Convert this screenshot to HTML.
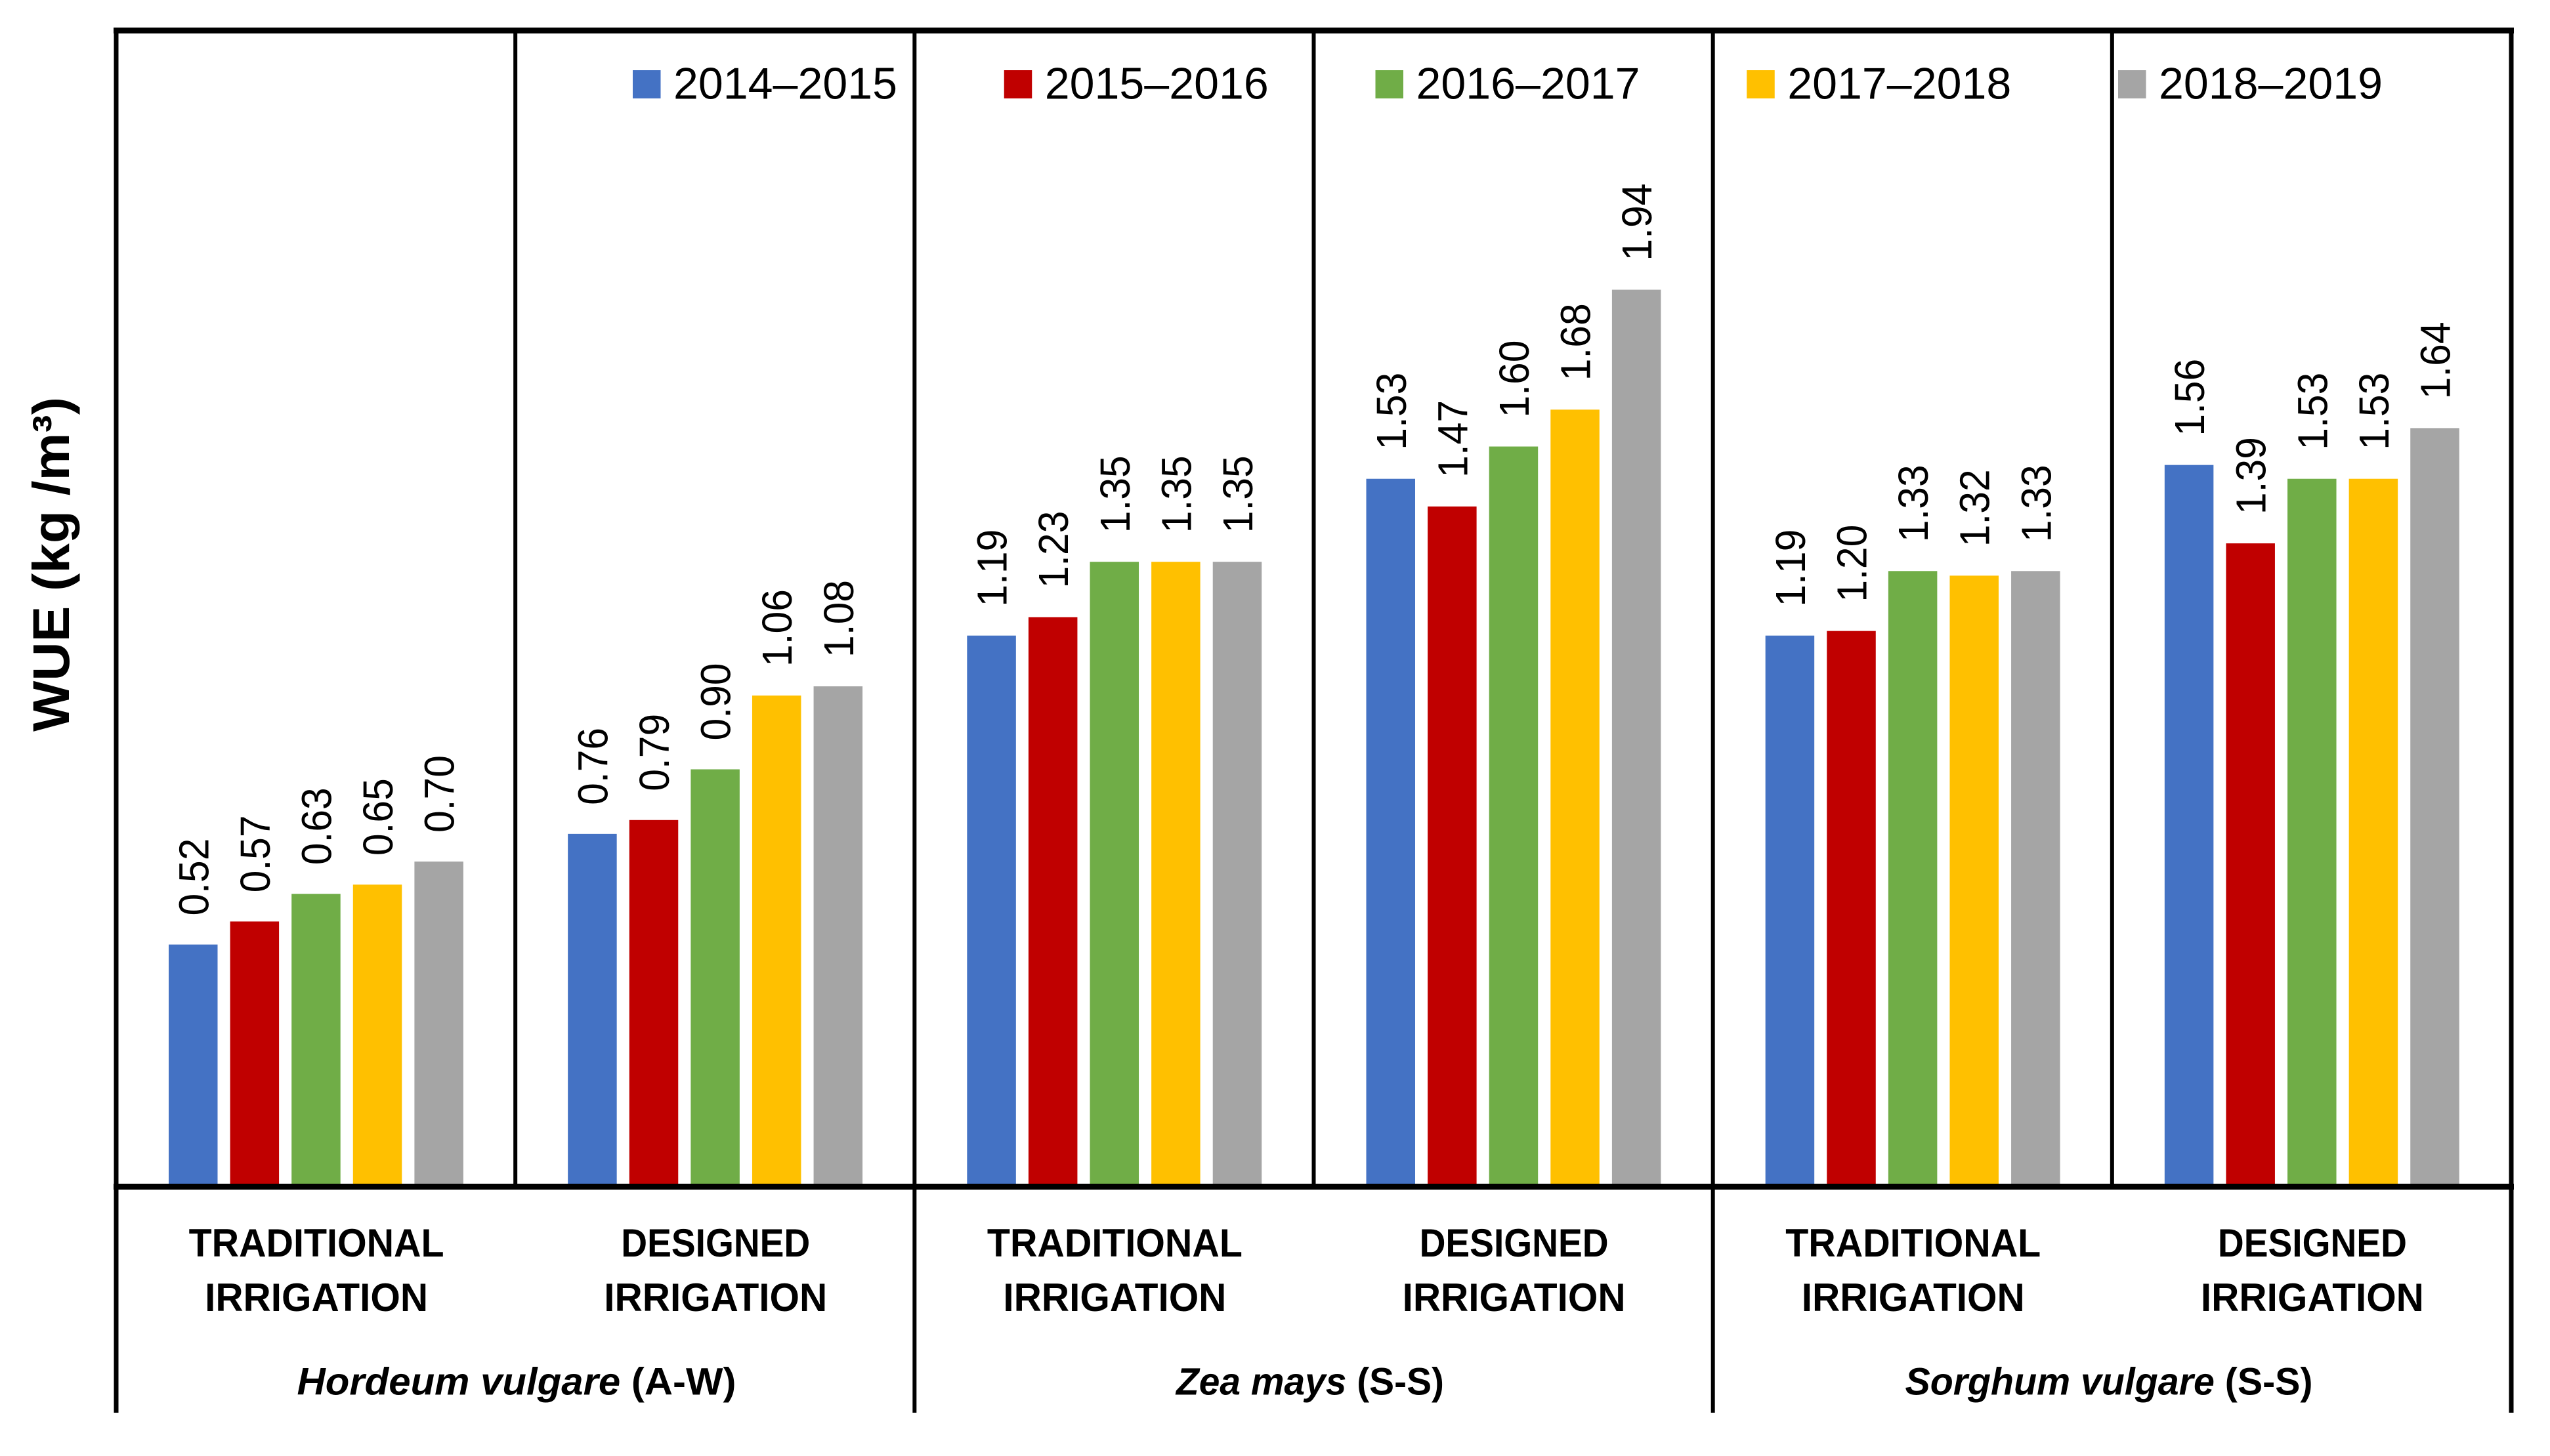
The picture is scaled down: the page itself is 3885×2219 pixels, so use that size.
<!DOCTYPE html>
<html lang="en">
<head>
<meta charset="utf-8">
<title>WUE chart</title>
<style>
html,body{margin:0;padding:0;background:#fff;}
svg{display:block;}
text{font-family:"Liberation Sans",sans-serif;fill:#000;}
</style>
</head>
<body>
<svg id="chart" xmlns="http://www.w3.org/2000/svg" width="3885" height="2219" viewBox="0 0 3885 2219">
  <rect x="0" y="0" width="3885" height="2219" fill="#ffffff"/>
  <g id="bars"></g>
  <g id="value-labels"></g>
  <g id="frame"></g>
  <g id="legend"></g>
  <g id="categories"></g>
  <g id="species" font-size="58" font-weight="700" text-anchor="middle">
    <text x="787" y="2125.5" textLength="669" lengthAdjust="spacingAndGlyphs"><tspan font-style="italic">Hordeum vulgare</tspan> (A-W)</text>
    <text x="1996" y="2125.5" textLength="408" lengthAdjust="spacingAndGlyphs"><tspan font-style="italic">Zea mays</tspan> (S-S)</text>
    <text x="3213" y="2125.5" textLength="621" lengthAdjust="spacingAndGlyphs"><tspan font-style="italic">Sorghum vulgare</tspan> (S-S)</text>
  </g>
  <text transform="translate(105,1115) rotate(-90)" font-size="79" font-weight="700" textLength="510" lengthAdjust="spacingAndGlyphs">WUE (kg /m³)</text>
</svg>
<script>
const categoryLine1 = ["TRADITIONAL", "DESIGNED", "TRADITIONAL", "DESIGNED", "TRADITIONAL", "DESIGNED"];
const categoryLine2 = ["IRRIGATION", "IRRIGATION", "IRRIGATION", "IRRIGATION", "IRRIGATION", "IRRIGATION"];
const seriesNames = ["2014–2015", "2015–2016", "2016–2017", "2017–2018", "2018–2019"];
const seriesColors = ["#4472C4", "#C00000", "#70AD47", "#FFC000", "#A5A5A5"];
const wue20142015 = [0.52, 0.76, 1.19, 1.53, 1.19, 1.56];
const wue20152016 = [0.57, 0.79, 1.23, 1.47, 1.20, 1.39];
const wue20162017 = [0.63, 0.90, 1.35, 1.60, 1.33, 1.53];
const wue20172018 = [0.65, 1.06, 1.35, 1.68, 1.32, 1.53];
const wue20182019 = [0.70, 1.08, 1.35, 1.94, 1.33, 1.64];
const seriesValues = [wue20142015, wue20152016, wue20162017, wue20172018, wue20182019];

const NS = "http://www.w3.org/2000/svg";
const plotLeft = 177, plotRight = 3826, plotTop = 46, baseY = 1805, axisY = 1808.5, lowerEnd = 2153;
const pxPerUnit = 702.8;
const panelW = (plotRight - plotLeft) / categoryLine1.length;
const barW = 74.5, barStep = 93.6, barOffset = 80;

function yScale(v) { return baseY - v * pxPerUnit; }
function panelX(i) { return plotLeft + i * panelW; }
function barX(c, s) { return panelX(c) + barOffset + s * barStep; }
function make(tag, parent, attrs) {
  const el = document.createElementNS(NS, tag);
  for (const k in attrs) el.setAttribute(k, attrs[k]);
  parent.appendChild(el);
  return el;
}

const barsG = document.getElementById("bars");
const labelsG = document.getElementById("value-labels");
seriesValues.forEach(function (vals, s) {
  vals.forEach(function (v, c) {
    const x = barX(c, s), y = yScale(v);
    const bar = make("rect", barsG, { x: x, y: y, width: barW, height: baseY - y, fill: seriesColors[s] });
    
    
    const tx = x + barW / 2 + 23, ty = y - 44;
    const t = make("text", labelsG, { transform: "translate(" + tx + "," + ty + ") rotate(-90)", "font-size": 64, textLength: 118, lengthAdjust: "spacingAndGlyphs" });
    t.textContent = v.toFixed(2);
    
    
  });
});

const frameG = document.getElementById("frame");
for (let i = 0; i <= categoryLine1.length; i++) {
  const outer = i === 0 || i === categoryLine1.length;
  const major = i % 2 === 0;
  const w = outer ? 7 : 6;
  const line = make("rect", frameG, { x: panelX(i) - w / 2, y: plotTop, width: w, height: (major ? lowerEnd : axisY) - plotTop, fill: "#000" });
  
  
}
const topLine = make("rect", frameG, { x: plotLeft - 4, y: 42, width: plotRight - plotLeft + 8, height: 9, fill: "#000" });


const xAxis = make("rect", frameG, { x: plotLeft - 4, y: 1804, width: plotRight - plotLeft + 8, height: 9, fill: "#000" });



const legendG = document.getElementById("legend");
seriesNames.forEach(function (name, i) {
  const sx = 964 + i * 565.75;
  const g = make("g", legendG, {});
  
  
  const sw = make("rect", g, { x: sx, y: 107, width: 42.5, height: 43, fill: seriesColors[i] });
  
  
  const t = make("text", g, { x: sx + 62, y: 150.5, "font-size": 68, textLength: 341, lengthAdjust: "spacingAndGlyphs" });
  t.textContent = name;
  
  
});

const catG = document.getElementById("categories");
const line1Width = { TRADITIONAL: 389, DESIGNED: 288 };
categoryLine1.forEach(function (label, i) {
  const cx = panelX(i) + panelW / 2 + 1;
  const a = make("text", catG, { x: cx, y: 1915, "text-anchor": "middle", "font-size": 60, "font-weight": 700, textLength: line1Width[label], lengthAdjust: "spacingAndGlyphs" });
  a.textContent = label;
  
  
  const b = make("text", catG, { x: cx, y: 1998, "text-anchor": "middle", "font-size": 60, "font-weight": 700, textLength: 340, lengthAdjust: "spacingAndGlyphs" });
  b.textContent = categoryLine2[i];
  
  
});
</script>
</body>
</html>
